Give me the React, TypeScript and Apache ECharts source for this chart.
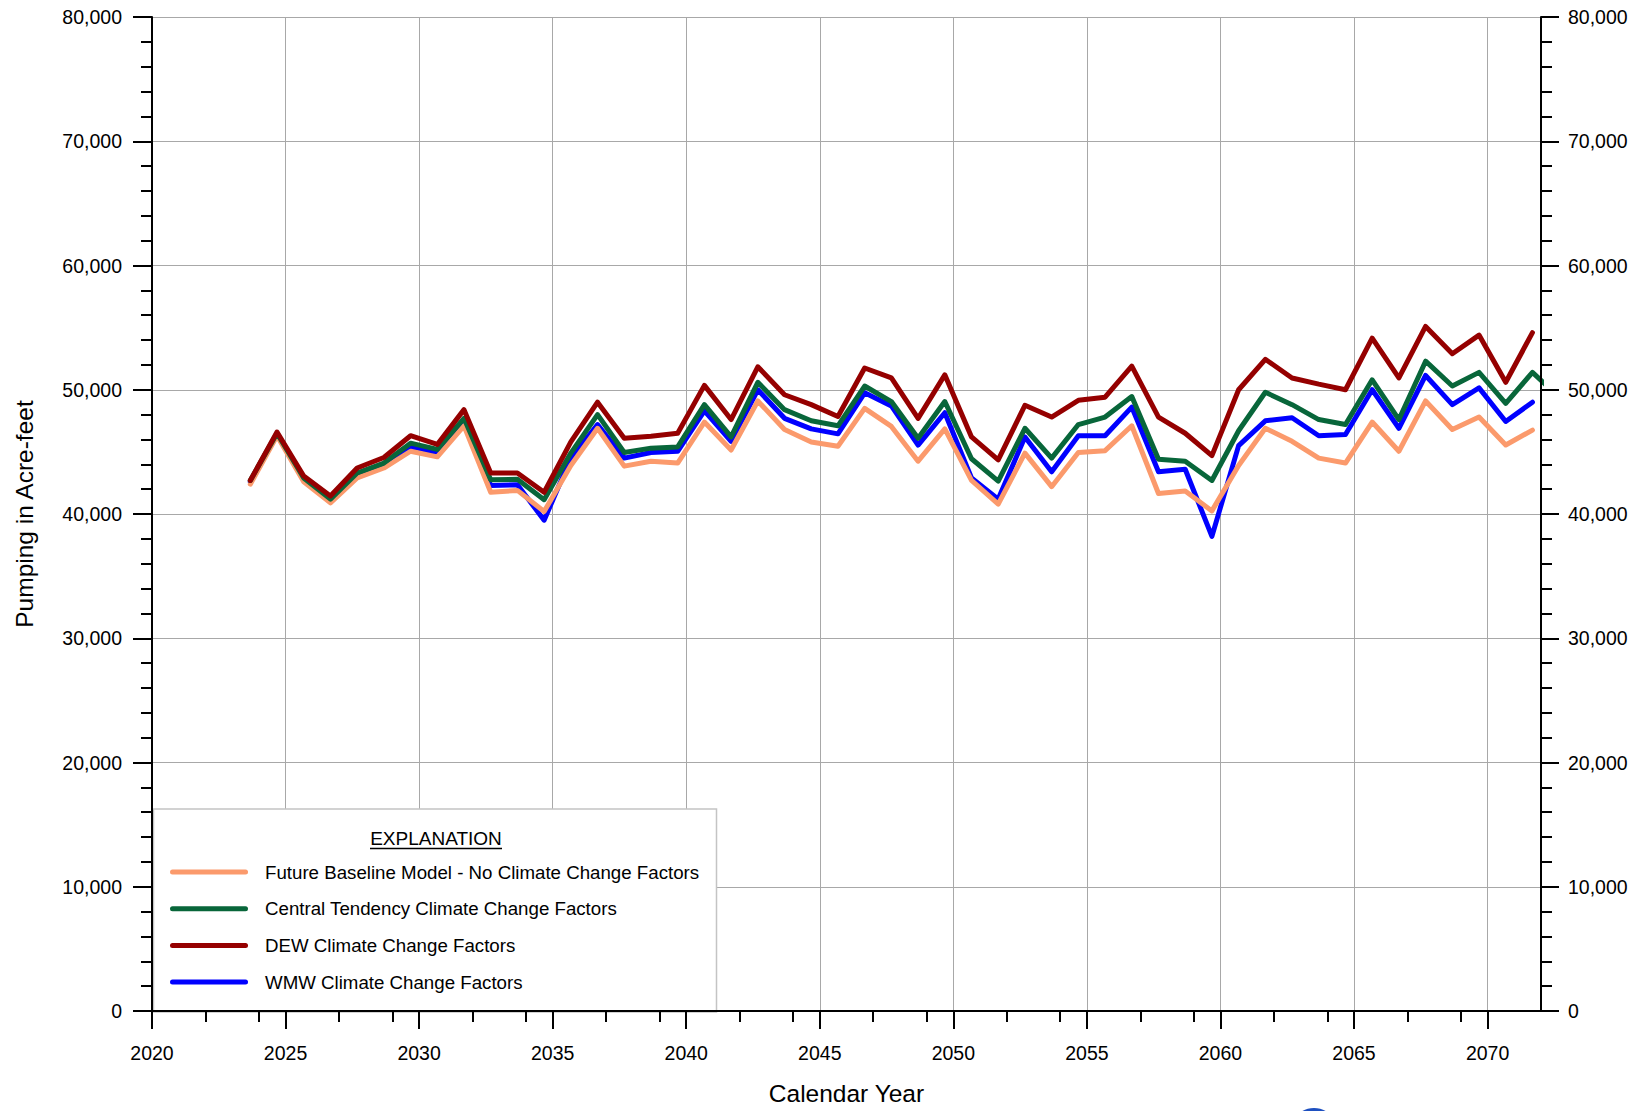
import React, { useEffect, useRef } from "react";
import * as echarts from "echarts";

// Decimal calendar dates of the annual values (end of each water year)
const DATES = [
  2023.68, 2024.68, 2025.68, 2026.68, 2027.68, 2028.68, 2029.68, 2030.68, 2031.68, 2032.68,
  2033.68, 2034.68, 2035.68, 2036.68, 2037.68, 2038.68, 2039.68, 2040.68, 2041.68, 2042.68,
  2043.68, 2044.68, 2045.68, 2046.68, 2047.68, 2048.68, 2049.68, 2050.68, 2051.68, 2052.68,
  2053.68, 2054.68, 2055.68, 2056.68, 2057.68, 2058.68, 2059.68, 2060.68, 2061.68, 2062.68,
  2063.68, 2064.68, 2065.68, 2066.68, 2067.68, 2068.68, 2069.68, 2070.68, 2071.68, 2072.68,
];

const BASELINE = [
  42400, 46300, 42600, 40900, 42900, 43700, 45050, 44600, 47100, 41750,
  41900, 40200, 43900, 46900, 43850, 44250, 44100, 47400, 45150, 49100,
  46800, 45800, 45450, 48500, 47050, 44250, 46850, 42700, 40800, 44900,
  42200, 44950, 45100, 47100, 41650, 41850, 40250, 43900, 46900, 45850,
  44500, 44100, 47400, 45050, 49100, 46800, 47800, 45550, 46750,
];

const CENTRAL = [
  42700, 46500, 42900, 41200, 43300, 44100, 45700, 45200, 47700, 42750,
  42800, 41150, 44900, 48000, 44950, 45300, 45400, 48800, 46200, 50600,
  48400, 47500, 47100, 50300, 49050, 46100, 49050, 44450, 42650, 46900,
  44500, 47200, 47800, 49450, 44400, 44250, 42700, 46700, 49800, 48800,
  47600, 47200, 50800, 47600, 52300, 50300, 51400, 48900, 51400, 49400,
];

const DEW = [
  42700, 46600, 43050, 41450, 43700, 44550, 46300, 45600, 48400, 43300,
  43300, 41750, 45800, 49000, 46100, 46250, 46500, 50350, 47600, 51850,
  49600, 48800, 47850, 51750, 50950, 47700, 51200, 46200, 44350, 48750,
  47800, 49150, 49400, 51900, 47800, 46500, 44700, 50000, 52450, 50950,
  50450, 50000, 54150, 50950, 55100, 52900, 54400, 50600, 54600,
];

const WMW = [
  42600, 46450, 42800, 41100, 43200, 43900, 45450, 44900, 47500, 42300,
  42350, 39500, 44500, 47200, 44500, 44950, 45050, 48300, 45850, 50000,
  47700, 46850, 46450, 49750, 48700, 45550, 48150, 42900, 41200, 46200,
  43400, 46300, 46300, 48600, 43400, 43600, 38200, 45500, 47500, 47750,
  46300, 46400, 50000, 46900, 51150, 48800, 50150, 47450, 49000,
];

const X_MAJOR = [2020, 2025, 2030, 2035, 2040, 2045, 2050, 2055, 2060, 2065, 2070];
const X_MINOR = [
  2022, 2024, 2027, 2029, 2032, 2034, 2037, 2039, 2042, 2044, 2047, 2049,
  2052, 2054, 2057, 2059, 2062, 2064, 2067, 2069,
];

const NAMES = [
  "Future Baseline Model - No Climate Change Factors",
  "Central Tendency Climate Change Factors",
  "DEW Climate Change Factors",
  "WMW Climate Change Factors",
];
const COLORS = ["#FB9A6C", "#08663A", "#950000", "#0000FF"];

const FONT = "'Liberation Sans', Arial, sans-serif";

export default function App() {
  const ref = useRef<HTMLDivElement>(null);
  useEffect(() => {
    if (!ref.current) return;
    const chart = echarts.init(ref.current, undefined, { renderer: "svg" });
    const pairs = (vals: number[]) => vals.map((v, i) => [DATES[i], v]);
    const black = { color: "#000", width: 2 };
    const tickFont = { fontFamily: FONT, fontSize: 19.5, color: "#000" };
    const legendIcon = "path://M2.5,0 L75.5,0 A2.5,2.5 0 0 1 75.5,5 L2.5,5 A2.5,2.5 0 0 1 2.5,0 Z";

    const mkSeries = (idx: number, vals: number[], z: number) => ({
      type: "line",
      name: NAMES[idx],
      data: pairs(vals),
      xAxisIndex: 0,
      yAxisIndex: 0,
      symbol: "none",
      showSymbol: false,
      clip: true,
      silent: true,
      z,
      lineStyle: { width: 5, color: COLORS[idx], cap: "round", join: "round" },
      itemStyle: { color: COLORS[idx] },
    });

    chart.setOption({
      animation: false,
      backgroundColor: "#fff",
      grid: { left: 152, right: 104, top: 17, bottom: 99 },
      xAxis: [
        {
          type: "value",
          min: 2020,
          max: 2072,
          position: "bottom",
          z: 5,
          name: "Calendar Year",
          nameLocation: "middle",
          nameGap: 70,
          nameTextStyle: { fontFamily: FONT, fontSize: 24.5, color: "#000" },
          axisLine: { show: true, onZero: false, lineStyle: black },
          axisTick: { show: true, length: 18, customValues: X_MAJOR, lineStyle: black },
          axisLabel: {
            show: true,
            customValues: X_MAJOR,
            formatter: (v: number) => String(Math.round(v)),
            margin: 32,
            ...tickFont,
          },
          splitLine: { show: false },
        },
        {
          type: "value",
          min: 2020,
          max: 2072,
          position: "bottom",
          z: 5,
          axisLine: { show: false, onZero: false },
          axisTick: { show: true, length: 11, customValues: X_MINOR, lineStyle: black },
          axisLabel: { show: false },
          splitLine: { show: false },
        },
        {
          type: "value",
          min: 2020,
          max: 2072,
          interval: 5,
          position: "bottom",
          z: 0,
          axisLine: { show: false, onZero: false },
          axisTick: { show: false },
          axisLabel: { show: false },
          splitLine: { show: true, lineStyle: { color: "#A8A8A8", width: 1 } },
        },
      ],
      yAxis: [
        {
          type: "value",
          min: 0,
          max: 80000,
          interval: 10000,
          position: "left",
          z: 5,
          name: "Pumping in Acre-feet",
          nameLocation: "middle",
          nameRotate: 90,
          nameGap: 115,
          nameTextStyle: { fontFamily: FONT, fontSize: 24.5, color: "#000" },
          axisLine: { show: true, onZero: false, lineStyle: black },
          axisTick: { show: true, length: 19, lineStyle: black },
          minorTick: { show: true, splitNumber: 5, length: 11, lineStyle: black },
          axisLabel: { margin: 30, ...tickFont },
          splitLine: { show: false },
          minorSplitLine: { show: false },
        },
        {
          type: "value",
          min: 0,
          max: 80000,
          interval: 10000,
          position: "right",
          z: 5,
          axisLine: { show: true, onZero: false, lineStyle: black },
          axisTick: { show: true, length: 18, lineStyle: black },
          minorTick: { show: true, splitNumber: 5, length: 11, lineStyle: black },
          axisLabel: { margin: 27, ...tickFont },
          splitLine: { show: false },
          minorSplitLine: { show: false },
        },
        {
          type: "value",
          min: 0,
          max: 80000,
          interval: 10000,
          position: "left",
          z: 0,
          axisLine: { show: false, onZero: false },
          axisTick: { show: false },
          axisLabel: { show: false },
          splitLine: { show: true, lineStyle: { color: "#A8A8A8", width: 1 } },
        },
      ],
      legend: {
        data: NAMES,
        orient: "vertical",
        left: 170,
        top: 860,
        padding: 0,
        itemWidth: 78,
        itemHeight: 5,
        icon: legendIcon,
        itemGap: 12.7,
        selectedMode: false,
        z: 6,
        itemStyle: { borderWidth: 0 },
        textStyle: {
          fontFamily: FONT,
          fontSize: 18.7,
          color: "#000",
          lineHeight: 24,
          padding: [0, 0, 0, 12],
        },
      },
      graphic: [
        {
          type: "rect",
          z: 3,
          shape: { x: 153.5, y: 809, width: 563, height: 203 },
          style: { fill: "#fff", stroke: "#C4C4C4", lineWidth: 1.5 },
        },
        {
          type: "text",
          z: 4,
          x: 436,
          y: 838,
          style: {
            text: "EXPLANATION",
            fill: "#000",
            fontFamily: FONT,
            fontSize: 19,
            align: "center",
            verticalAlign: "middle",
          },
        },
        {
          type: "line",
          z: 4,
          shape: { x1: 370, y1: 848.5, x2: 502, y2: 848.5 },
          style: { stroke: "#000", lineWidth: 1.5 },
        },
        {
          type: "circle",
          z: 4,
          shape: { cx: 1314, cy: 1132, r: 24 },
          style: { fill: "#1E50C0" },
        },
      ],
      series: [
        mkSeries(3, WMW, 2),
        mkSeries(0, BASELINE, 3),
        mkSeries(1, CENTRAL, 4),
        mkSeries(2, DEW, 5),
      ],
    });
    return () => chart.dispose();
  }, []);
  return (
    <div
      ref={ref}
      style={{ position: "absolute", left: 0, top: 0, width: 1645, height: 1111 }}
    />
  );
}
